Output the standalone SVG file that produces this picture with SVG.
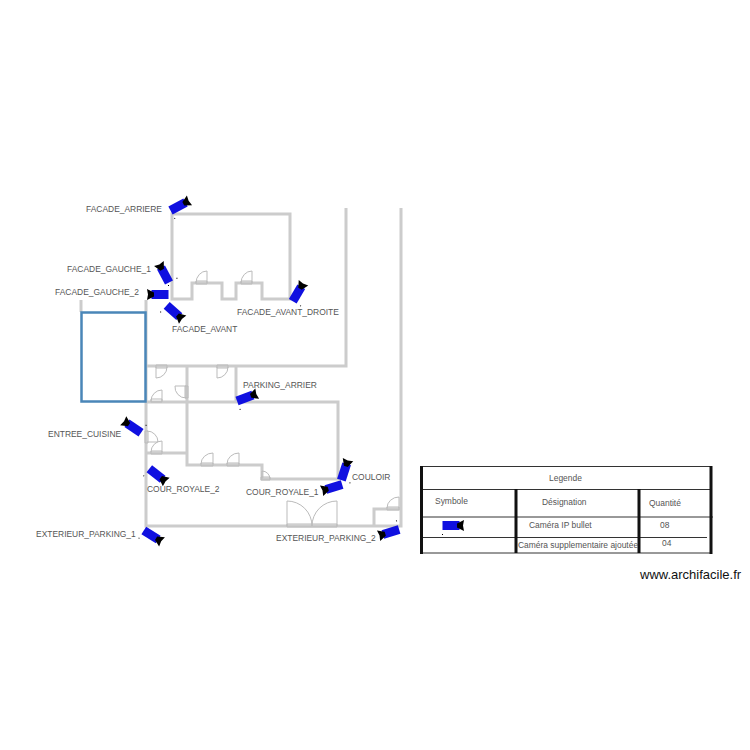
<svg xmlns="http://www.w3.org/2000/svg" width="750" height="750" viewBox="0 0 750 750">
<style>
.w{fill:none;stroke:#ccc;stroke-width:3}
.d{fill:none;stroke:#bbb;stroke-width:1}
.t{font-family:"Liberation Sans",Arial,sans-serif;font-size:8.450px;fill:#555}
.l{stroke:#333;stroke-width:1;fill:none}
.v{stroke:#111;stroke-width:3;fill:none}
</style>
<defs>
<g id="cam">
<rect x="-8.500" y="-4.500" width="17" height="9" fill="#1010e0"/>
<path d="M6-2 13-5.500 12 0 13 5.500 6 2Z" fill="#000"/>
<rect x="-9" y="8.500" width="1" height="1" fill="#000"/>
</g>
</defs>
<rect width="750" height="750" fill="#fff"/>
<g id="walls">
<path class="w" d="M172 214H290V299H262V283H236V299H222V283H192V299H172Z"/>
<path class="w" d="M346 208V366H146"/>
<path class="w" d="M146 300V526H401V208"/>
<path class="w" d="M81 300V312"/>
<path class="w" d="M146 402H338V479H262V465H187V366"/>
<path class="w" d="M236 366V402"/>
<path class="w" d="M146 453H187"/>
<path class="w" d="M374 526V509H401"/>
</g>
<rect id="room" x="81.500" y="312.500" width="64" height="89" fill="#fff" stroke="#4a86b8" stroke-width="2.500"/>
<g id="doors">
<path class="d" d="M156 365h11v3h-11zM156 367V378A11 11 0 0 0 167 367"/>
<path class="d" d="M217 365h11v3h-11zM217 367V378A11 11 0 0 0 228 367"/>
<path class="d" d="M151 399h11v3h-11zM162 401V390A11 11 0 0 0 151 401"/>
<path class="d" d="M185 386h3v12h-3zM186 398V386H175A11 11 0 0 0 186 398"/>
<path class="d" d="M145 431h3v12h-3zM147 431A11 11 0 0 1 158 442H147"/>
<path class="d" d="M151 451h11v3h-11zM162 452V441A11 11 0 0 0 151 452"/>
<path class="d" d="M201 463h12v3h-12zM213 464V453A12 11 0 0 0 201 464"/>
<path class="d" d="M227 463h12v3h-12zM239 464V453A12 11 0 0 0 227 464"/>
<path class="d" d="M261 477h9v3h-9zM262 479V471A8 8 0 0 1 270 479"/>
<path class="d" d="M196 281h11v3h-11zM207 283V271A11 12 0 0 0 196 283"/>
<path class="d" d="M241 281h11v3h-11zM252 283V271A11 12 0 0 0 241 283"/>
<path class="d" d="M287 524h50v3h-50zM287 526V501A25 25 0 0 1 312 526A25 25 0 0 1 337 501V526"/>
<path class="d" d="M387 507h12v3h-12zM399 508V497A12 11 0 0 0 387 508"/>
</g>
<g id="cam-facade-arriere"><use href="#cam" transform="translate(178 206.500) rotate(-28)"/><text class="t" x="86" y="212">FACADE_ARRIERE</text></g>
<g id="cam-facade-gauche-1"><use href="#cam" transform="translate(165 275) rotate(-118)"/><text class="t" x="67" y="272">FACADE_GAUCHE_1</text></g>
<g id="cam-facade-gauche-2"><use href="#cam" transform="translate(160 294.500) rotate(180)"/><text class="t" x="55" y="295">FACADE_GAUCHE_2</text></g>
<g id="cam-facade-avant"><use href="#cam" transform="translate(173 311) rotate(42)"/><text class="t" x="172" y="332">FACADE_AVANT</text></g>
<g id="cam-facade-avant-droite"><use href="#cam" transform="translate(297 294) rotate(-60)"/><text class="t" x="237" y="315">FACADE_AVANT_DROITE</text></g>
<g id="cam-parking-arrier"><use href="#cam" transform="translate(245 398) rotate(-20)"/><text class="t" x="243" y="388">PARKING_ARRIER</text></g>
<g id="cam-entree-cuisine"><use href="#cam" transform="translate(134 428) rotate(-146)"/><text class="t" x="48" y="437">ENTREE_CUISINE</text></g>
<g id="cam-cour-royale-2"><use href="#cam" transform="translate(156 474) rotate(38)"/><text class="t" x="147" y="492">COUR_ROYALE_2</text></g>
<g id="cam-cour-royale-1"><use href="#cam" transform="translate(334 487) rotate(163)"/><text class="t" x="246" y="495">COUR_ROYALE_1</text></g>
<g id="cam-couloir"><use href="#cam" transform="translate(344 472) rotate(-72)"/><text class="t" x="352" y="480">COULOIR</text></g>
<g id="cam-exterieur-parking-1"><use href="#cam" transform="translate(151 535) rotate(32)"/><text class="t" x="36" y="537">EXTERIEUR_PARKING_1</text></g>
<g id="cam-exterieur-parking-2"><use href="#cam" transform="translate(391 532) rotate(163)"/><text class="t" x="276" y="541">EXTERIEUR_PARKING_2</text></g>
<g id="legend">
<path class="l" d="M421 466.500H711M421 489.500H711M421 517H713M421 537.500H707M421 553H711"/>
<path class="v" d="M421.500 466V554M711 466V554M516 489V553M639 489V553"/>
<use href="#cam" transform="translate(451 525.500)"/>
<text class="t" x="549" y="481">Legende</text>
<text class="t" x="435" y="504">Symbole</text>
<text class="t" x="542" y="505">Désignation</text>
<text class="t" x="649" y="506">Quantité</text>
<text class="t" x="529" y="528">Caméra IP bullet</text>
<text class="t" x="660" y="528">08</text>
<text class="t" x="518" y="548">Caméra supplementaire ajoutée</text>
<text class="t" x="662" y="546">04</text>
</g>
<text x="640" y="579" font-family="Liberation Sans, Arial, sans-serif" font-size="13" fill="#111">www.archifacile.fr</text>
</svg>
